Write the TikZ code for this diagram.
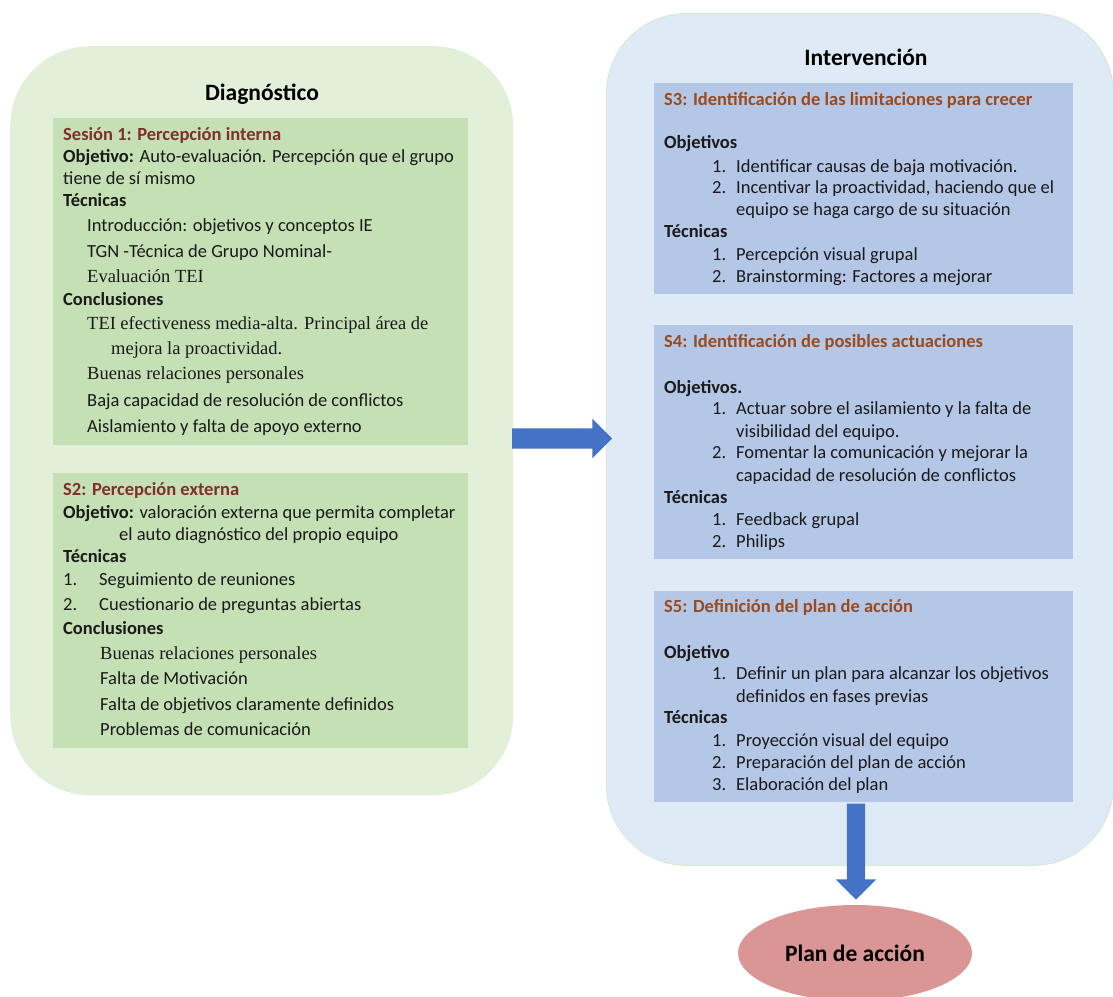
\documentclass[tikz,border=0pt]{standalone}
\usepackage{fontspec}
\setmainfont{Carlito}
\newfontfamily\tnr{Liberation Serif}
\usetikzlibrary{shapes.geometric,shapes.arrows}

\definecolor{diagbg}{HTML}{E2EFD9}
\definecolor{diagbox}{HTML}{C5E0B4}
\definecolor{intbg}{HTML}{DEEBF7}
\definecolor{intbox}{HTML}{B4C7E7}
\definecolor{intedge}{HTML}{D8EACB}
\definecolor{arrblue}{HTML}{4472C4}
\definecolor{planfill}{HTML}{DA9694}
\definecolor{redtitle}{HTML}{822E2E}
\definecolor{orangetitle}{HTML}{9A4A1C}
\definecolor{bodytext}{HTML}{1A1A1A}

\tikzset{
  panel/.style={anchor=north west, rounded corners=80pt, inner sep=0pt, draw=none},
  sessbox/.style={anchor=north west, inner sep=0pt, draw=none},
  ln/.style={anchor=base west, inner sep=0pt, text=bodytext, font=\fontsize{18.5}{22}\selectfont},
  sln/.style={anchor=base west, inner sep=0pt, text=bodytext, font=\fontsize{18.5}{22}\selectfont\tnr},
  panelttl/.style={anchor=base, inner sep=0pt, font=\fontsize{23.5}{28}\selectfont\bfseries},
  sttl/.style={anchor=base west, inner sep=0pt, font=\fontsize{18.5}{22}\selectfont\bfseries},
  blockarrow/.style={single arrow, fill=arrblue, draw=none, inner xsep=0pt, single arrow head indent=0pt}
}

\begin{document}
\begin{tikzpicture}[x=1pt, y=-1pt]
\useasboundingbox (0,0) rectangle (1113,996);

% --- background panels ---
\node[panel, fill=diagbg, minimum width=503pt, minimum height=749pt] (diag) at (10,46) {};
\node[panel, fill=intbg, draw=intedge, line width=0.8pt, minimum width=507pt, minimum height=852pt] (interv) at (606,13) {};

\node[panelttl] (diagttl) at (262,100) {Diagnóstico};
\node[panelttl] (intttl) at (866,65) {Intervención};

% --- session boxes ---
\node[sessbox, fill=diagbox, minimum width=415pt, minimum height=327pt] (s1) at (53,118) {};
\node[sessbox, fill=diagbox, minimum width=415pt, minimum height=275pt] (s2) at (53,473) {};
\node[sessbox, fill=intbox, minimum width=419pt, minimum height=211pt] (s3) at (654,83) {};
\node[sessbox, fill=intbox, minimum width=419pt, minimum height=234pt] (s4) at (654,325) {};
\node[sessbox, fill=intbox, minimum width=419pt, minimum height=211pt] (s5) at (654,591) {};

% --- Sesión 1 ---
\node[sttl, text=redtitle] (s1t) at (63,140) {Sesión 1: Percepción interna};
\node[ln] (s1a) at (63,162) {\textbf{Objetivo:} Auto-evaluación. Percepción que el grupo};
\node[ln] (s1b) at (63,184) {tiene de sí mismo};
\node[ln] (s1c) at (63,206) {\textbf{Técnicas}};
\node[ln] (s1d) at (87,231) {Introducción: objetivos y conceptos IE};
\node[ln] (s1e) at (87,257) {TGN -Técnica de Grupo Nominal-};
\node[sln] (s1f) at (87,282) {Evaluación TEI};
\node[ln] (s1g) at (63,305) {\textbf{Conclusiones}};
\node[sln] (s1h) at (87,329) {\makebox[341pt][s]{TEI efectiveness media-alta. Principal área de}};
\node[sln] (s1i) at (111,354) {mejora la proactividad.};
\node[sln] (s1j) at (87,379) {Buenas relaciones personales};
\node[ln] (s1k) at (87,406) {Baja capacidad de resolución de conflictos};
\node[ln] (s1l) at (87,432) {Aislamiento y falta de apoyo externo};

% --- S2 ---
\node[sttl, text=redtitle] (s2t) at (63,495) {S2: Percepción externa};
\node[ln] (s2a) at (63,518) {\textbf{Objetivo:} valoración externa que permita completar};
\node[ln] (s2b) at (119,540) {el auto diagnóstico del propio equipo};
\node[ln] (s2c) at (63,562) {\textbf{Técnicas}};
\node[ln] (s2d1) at (63,585) {1.};
\node[ln] (s2d) at (99,585) {Seguimiento de reuniones};
\node[ln] (s2e1) at (63,610) {2.};
\node[ln] (s2e) at (99,610) {Cuestionario de preguntas abiertas};
\node[ln] (s2f) at (63,634) {\textbf{Conclusiones}};
\node[sln] (s2g) at (100,659) {Buenas relaciones personales};
\node[ln] (s2h) at (100,684) {Falta de Motivación};
\node[ln] (s2i) at (100,710) {Falta de objetivos claramente definidos};
\node[ln] (s2j) at (100,735) {Problemas de comunicación};

% --- S3 ---
\node[sttl, text=orangetitle] (s3t) at (664,105) {S3: Identificación de las limitaciones para crecer};
\node[ln] (s3a) at (664,148) {\textbf{Objetivos}};
\node[ln] (s3b1) at (712,172) {1.};
\node[ln] (s3b) at (736,172) {Identificar causas de baja motivación.};
\node[ln] (s3c1) at (712,193) {2.};
\node[ln] (s3c) at (736,193) {Incentivar la proactividad, haciendo que el};
\node[ln] (s3d) at (736,215) {equipo se haga cargo de su situación};
\node[ln] (s3e) at (664,237) {\textbf{Técnicas}};
\node[ln] (s3f1) at (712,260) {1.};
\node[ln] (s3f) at (736,260) {Percepción visual grupal};
\node[ln] (s3g1) at (712,282) {2.};
\node[ln] (s3g) at (736,282) {Brainstorming: Factores a mejorar};

% --- S4 ---
\node[sttl, text=orangetitle] (s4t) at (664,347) {S4: Identificación de posibles actuaciones};
\node[ln] (s4a) at (664,393) {\textbf{Objetivos.}};
\node[ln] (s4b1) at (712,414) {1.};
\node[ln] (s4b) at (736,414) {Actuar sobre el asilamiento y la falta de};
\node[ln] (s4c) at (736,437) {visibilidad del equipo.};
\node[ln] (s4d1) at (712,458) {2.};
\node[ln] (s4d) at (736,458) {Fomentar la comunicación y mejorar la};
\node[ln] (s4e) at (736,481) {capacidad de resolución de conflictos};
\node[ln] (s4f) at (664,503) {\textbf{Técnicas}};
\node[ln] (s4g1) at (712,525) {1.};
\node[ln] (s4g) at (736,525) {Feedback grupal};
\node[ln] (s4h1) at (712,547) {2.};
\node[ln] (s4h) at (736,547) {Philips};

% --- S5 ---
\node[sttl, text=orangetitle] (s5t) at (664,612) {S5: Definición del plan de acción};
\node[ln] (s5a) at (664,658) {\textbf{Objetivo}};
\node[ln] (s5b1) at (712,679) {1.};
\node[ln] (s5b) at (736,679) {Definir un plan para alcanzar los objetivos};
\node[ln] (s5c) at (736,702) {definidos en fases previas};
\node[ln] (s5d) at (664,723) {\textbf{Técnicas}};
\node[ln] (s5e1) at (712,746) {1.};
\node[ln] (s5e) at (736,746) {Proyección visual del equipo};
\node[ln] (s5f1) at (712,768) {2.};
\node[ln] (s5f) at (736,768) {Preparación del plan de acción};
\node[ln] (s5g1) at (712,790) {3.};
\node[ln] (s5g) at (736,790) {Elaboración del plan};

% --- result ---
\node[ellipse, fill=planfill, draw=none, inner sep=0pt, minimum width=234pt, minimum height=96pt,
      font=\fontsize{23.5}{28}\selectfont\bfseries] (plan) at (855,953) {Plan de acción};

% --- block arrows ---
\node[blockarrow, inner ysep=10pt, minimum height=100pt, minimum width=39pt, single arrow head extend=9.5pt] (arrR) at (557,438.5) {};
\node[blockarrow, rotate=-90, inner ysep=9pt, minimum height=96pt, minimum width=40pt, single arrow head extend=11pt] (arrD) at (856,847) {};
\end{tikzpicture}
\end{document}
